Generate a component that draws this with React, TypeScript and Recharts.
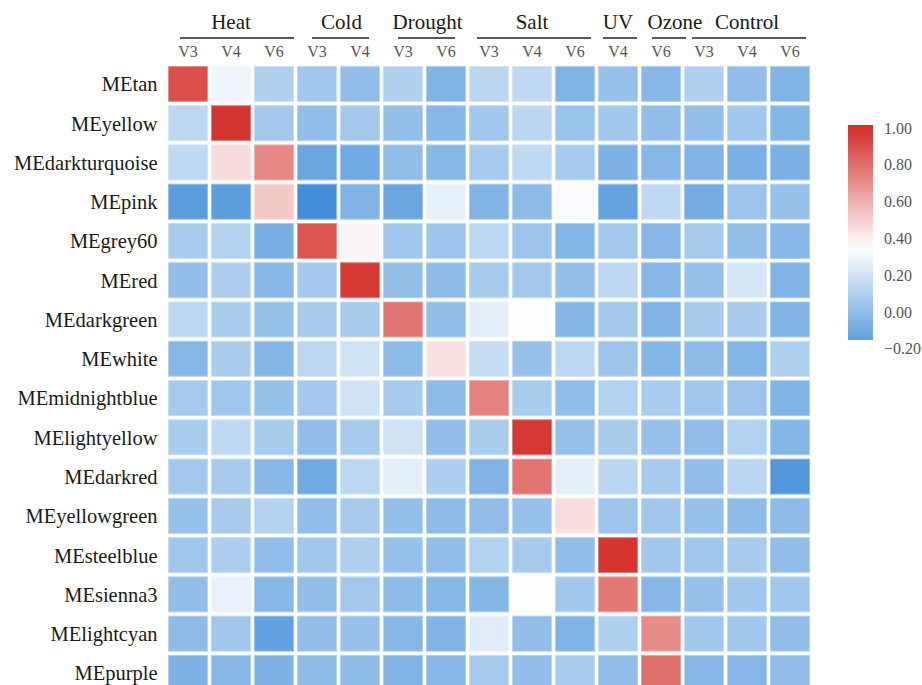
import { BarChart, Bar, XAxis, YAxis } from "recharts";

// column groups (stress treatments) and their time points
const groupNames = ["Heat", "Cold", "Drought", "Salt", "UV", "Ozone", "Control"];
const groupVersions = [
  ["V3", "V4", "V6"],
  ["V3", "V4"],
  ["V3", "V6"],
  ["V3", "V4", "V6"],
  ["V4"],
  ["V6"],
  ["V3", "V4", "V6"],
];

const modules = [
  "MEtan",
  "MEyellow",
  "MEdarkturquoise",
  "MEpink",
  "MEgrey60",
  "MEred",
  "MEdarkgreen",
  "MEwhite",
  "MEmidnightblue",
  "MElightyellow",
  "MEdarkred",
  "MEyellowgreen",
  "MEsteelblue",
  "MEsienna3",
  "MElightcyan",
  "MEpurple",
];

// module-trait correlations, one row per module
const corr = [
  [0.9, 0.3, 0.1, 0.05, 0.0, 0.1, -0.05, 0.13, 0.15, -0.05, 0.02, -0.03, 0.1, 0.0, -0.05],
  [0.14, 0.98, 0.06, 0.0, 0.06, 0.01, -0.03, 0.05, 0.13, 0.03, 0.05, 0.0, 0.01, 0.05, -0.04],
  [0.15, 0.46, 0.72, -0.12, -0.1, 0.0, -0.03, 0.07, 0.15, 0.07, -0.06, -0.03, -0.05, -0.07, -0.07],
  [-0.17, -0.17, 0.52, -0.25, -0.05, -0.12, 0.27, -0.05, -0.01, 0.33, -0.14, 0.15, -0.09, 0.04, 0.02],
  [0.08, 0.11, -0.08, 0.88, 0.38, 0.05, 0.04, 0.14, 0.04, -0.04, 0.06, -0.03, 0.07, 0.01, -0.03],
  [0.0, 0.09, -0.03, 0.06, 0.97, 0.01, -0.01, 0.07, 0.06, 0.01, 0.14, -0.03, 0.02, 0.22, -0.05],
  [0.14, 0.08, 0.02, 0.07, 0.07, 0.78, 0.0, 0.26, 0.34, -0.04, 0.06, -0.05, 0.07, 0.07, -0.05],
  [-0.03, 0.08, -0.04, 0.14, 0.2, -0.01, 0.44, 0.17, 0.02, 0.14, 0.04, -0.04, -0.01, -0.04, 0.1],
  [0.07, 0.05, 0.02, 0.06, 0.2, 0.07, -0.01, 0.74, 0.08, 0.0, 0.11, 0.08, 0.05, 0.04, -0.05],
  [0.08, 0.15, 0.07, 0.0, 0.07, 0.2, 0.0, 0.08, 0.97, 0.02, 0.07, 0.02, 0.0, 0.11, -0.04],
  [0.06, 0.07, -0.03, -0.1, 0.14, 0.26, 0.09, -0.05, 0.78, 0.26, 0.13, 0.07, 0.0, 0.13, -0.2],
  [0.02, 0.07, 0.11, 0.0, 0.07, 0.01, -0.01, 0.0, 0.02, 0.45, 0.04, 0.05, 0.02, -0.01, -0.01],
  [0.05, 0.09, 0.0, 0.05, 0.1, 0.02, 0.0, 0.11, 0.07, 0.0, 0.98, 0.05, 0.05, 0.07, 0.0],
  [0.0, 0.28, -0.03, 0.0, 0.06, -0.01, -0.03, -0.04, 0.34, 0.05, 0.77, -0.03, 0.02, 0.05, 0.05],
  [-0.01, 0.05, -0.15, 0.0, 0.02, -0.03, -0.05, 0.25, 0.0, -0.05, 0.1, 0.71, 0.05, 0.05, 0.0],
  [-0.06, -0.03, -0.06, -0.01, -0.01, -0.05, -0.03, 0.07, 0.0, 0.08, 0.0, 0.8, -0.03, -0.03, 0.0],
];

const legendTicks = [1.0, 0.8, 0.6, 0.4, 0.2, 0.0, -0.2];

const colLabels = groupVersions.flat();
const colGroup = groupVersions.flatMap((vs, g) => vs.map(() => g));
const groupStart = groupVersions.map((_, g) => colGroup.indexOf(g));

const rows = modules.map((name) => {
  const row: Record<string, string | number> = { name };
  colLabels.forEach((_, i) => {
    row[`c${i}`] = 1;
  });
  return row;
});

// blue -> white -> red diverging scale
const BLUE = [66, 142, 216];
const WHITE = [255, 255, 255];
const RED = [211, 47, 42];
const LO = -0.25;
const MID = 0.35;
const HI = 1.0;

const mix = (a: number[], b: number[], t: number) =>
  a.map((v, k) => Math.round(v + (b[k] - v) * t));

const toRgb = (c: number[]) => `rgb(${c[0]},${c[1]},${c[2]})`;

function heatRgb(v: number) {
  const x = Math.max(LO, Math.min(HI, v));
  if (x < MID) return mix(BLUE, WHITE, (x - LO) / (MID - LO));
  return mix(WHITE, RED, (x - MID) / (HI - MID));
}

const heatColor = (v: number) => toRgb(heatRgb(v));
const edgeColor = (v: number) => toRgb(mix(heatRgb(v), WHITE, 0.35));

const FONT = "'Liberation Serif', 'Times New Roman', serif";
const serif = { fontFamily: FONT };
const CELL_W = 43;
const underlineLen: Record<number, number> = { 1: 34, 2: 57, 3: 114 };
const labelDx: Record<string, number> = { Ozone: 14, Cold: 3, Drought: 3 };
const underlineDx: Record<string, number> = { Ozone: 8, Heat: 6 };

const ColumnTick = (props: any) => {
  const { x, index } = props;
  const g = colGroup[index];
  let header = null;
  if (groupStart[g] === index) {
    const n = groupVersions[g].length;
    const name = groupNames[g];
    const center = x + ((n - 1) / 2) * CELL_W;
    const mid = center + (underlineDx[name] ?? 2);
    const half = underlineLen[n] / 2;
    header = (
      <g>
        <text
          x={center + (labelDx[name] ?? 0)}
          y={29}
          textAnchor="middle"
          fontSize={21}
          fill="#1a1a1a"
          style={serif}
        >
          {name}
        </text>
        <line x1={mid - half} x2={mid + half} y1={38} y2={38} stroke="#222" strokeWidth={1.6} />
      </g>
    );
  }
  return (
    <g>
      <text x={x} y={57.5} textAnchor="middle" fontSize={16} fill="#555" style={serif}>
        {colLabels[index]}
      </text>
      {header}
    </g>
  );
};

const makeCell = (col: number) => (props: any) => {
  const { x, y, width, height, index } = props;
  const v = corr[index][col];
  return (
    <rect
      x={x + 2}
      y={y + 2}
      width={width - 4}
      height={height - 4}
      fill={heatColor(v)}
      stroke={edgeColor(v)}
      strokeWidth={1}
    />
  );
};

// colour bar
const BAR_TOP = 125;
const BAR_BOTTOM = 340;
const PX_PER_UNIT = 184;
const tickY = (v: number) => 128 + (1 - v) * PX_PER_UNIT;
const barValue = (y: number) => 1 - (y - 128) / PX_PER_UNIT;

const ColorBar = () => {
  const stops = Array.from({ length: 25 }, (_, k) => k / 24);
  return (
    <svg width={922} height={685} style={{ position: "absolute", left: 0, top: 0, pointerEvents: "none" }}>
      <defs>
        <linearGradient id="heatGrad" x1="0" y1="0" x2="0" y2="1">
          {stops.map((t) => (
            <stop
              key={t}
              offset={t}
              stopColor={heatColor(barValue(BAR_TOP + t * (BAR_BOTTOM - BAR_TOP)))}
            />
          ))}
        </linearGradient>
      </defs>
      <rect x={848} y={BAR_TOP} width={25} height={BAR_BOTTOM - BAR_TOP} fill="url(#heatGrad)" />
      {legendTicks.map((v) => (
        <text key={v} x={884} y={tickY(v) + 5.5} fontSize={16} fill="#555" style={serif}>
          {v < 0 ? `\u2212${Math.abs(v).toFixed(2)}` : v.toFixed(2)}
        </text>
      ))}
    </svg>
  );
};

export default function App() {
  return (
    <div
      style={{
        position: "absolute",
        left: 0,
        top: 0,
        width: 922,
        height: 685,
        overflow: "hidden",
        background: "#fff",
        fontFamily: FONT,
      }}
    >
      <BarChart
        width={922}
        height={692.7}
        data={rows}
        layout="vertical"
        margin={{ top: 0, right: 110.5, bottom: 0, left: 0 }}
        barCategoryGap={0}
        barGap={0}
        style={serif}
      >
        <XAxis
          type="number"
          orientation="top"
          domain={[0, 15]}
          ticks={colLabels.map((_, i) => i + 0.5)}
          interval={0}
          tick={<ColumnTick />}
          axisLine={false}
          tickLine={false}
          height={64.4}
        />
        <YAxis
          type="category"
          dataKey="name"
          width={166.5}
          axisLine={false}
          tickLine={false}
          tickSize={0}
          tickMargin={9}
          interval={0}
          tick={{ fontSize: 20.5, fill: "#1a1a1a", style: serif }}
        />
        {colLabels.map((_, i) => (
          <Bar
            key={i}
            dataKey={`c${i}`}
            stackId="cells"
            isAnimationActive={false}
            shape={makeCell(i)}
          />
        ))}
      </BarChart>
      <ColorBar />
    </div>
  );
}
